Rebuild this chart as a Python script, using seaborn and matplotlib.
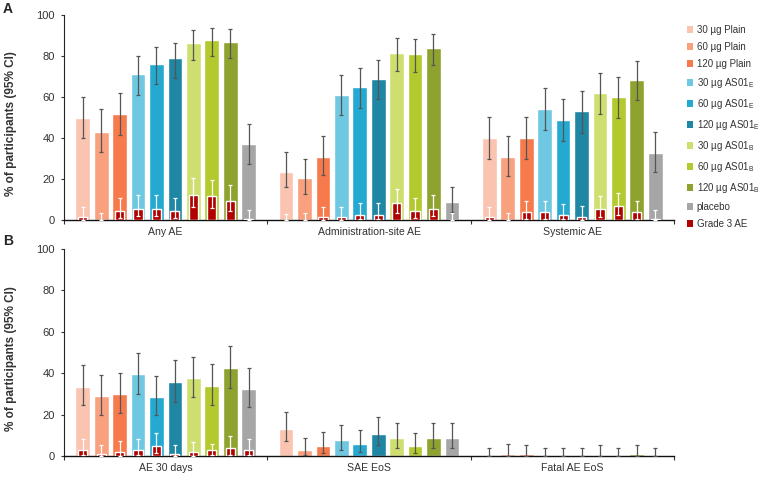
import numpy as np
import pandas as pd
import matplotlib
matplotlib.use('Agg')
import matplotlib.pyplot as plt
import seaborn as sns
from matplotlib.patches import Patch

# ---------------- data ----------------
series = ['30 µg Plain', '60 µg Plain', '120 µg Plain',
          '30 µg AS01E', '60 µg AS01E', '120 µg AS01E',
          '30 µg AS01B', '60 µg AS01B', '120 µg AS01B', 'placebo']
legend_labels = ['30 µg Plain', '60 µg Plain', '120 µg Plain',
                 '30 µg AS01$_{\\mathregular{E}}$', '60 µg AS01$_{\\mathregular{E}}$',
                 '120 µg AS01$_{\\mathregular{E}}$',
                 '30 µg AS01$_{\\mathregular{B}}$', '60 µg AS01$_{\\mathregular{B}}$',
                 '120 µg AS01$_{\\mathregular{B}}$', 'placebo', 'Grade 3 AE']
colors = ['#FBC4B0', '#F9A07E', '#F77A4D', '#6EC8E1', '#24A9D0', '#1F86A4',
          '#CFDF6F', '#B3C92E', '#8EA22F', '#A6A6A6']
grade3_color = '#B00000'

groups_A = ['Any AE', 'Administration-site AE', 'Systemic AE']
groups_B = ['AE 30 days', 'SAE EoS', 'Fatal AE EoS']

# Panel A
any_ae = [50, 43, 52, 71.5, 76, 79, 86.5, 88, 87, 37]
any_ae_lo = [40, 33.5, 41.5, 61.2, 66.5, 69.5, 78.2, 80, 79, 27.5]
any_ae_hi = [60, 54, 62, 80, 84.2, 86.6, 92.5, 93.8, 93.2, 47]
any_g3 = [1.8, 0, 4.7, 5.7, 5.7, 4.7, 12.3, 12, 9.6, 0.8]
any_g3_lo = [0, 0, 1.3, 2.1, 2.1, 1.3, 6.5, 6, 4.7, 0]
any_g3_hi = [6.7, 3.7, 11, 12.5, 12.5, 11, 20.6, 19.8, 17.4, 5]

admin = [23.7, 20.5, 30.8, 61.2, 65, 68.8, 81.7, 80.8, 84, 8.7]
admin_lo = [16, 13, 22, 51.2, 54.5, 59, 72.6, 72, 75.5, 3.8]
admin_hi = [33.5, 30, 41, 71, 74.4, 78, 88.6, 88.3, 90.7, 16.3]
admin_g3 = [0, 0, 1.8, 1.8, 2.8, 2.8, 8.4, 4.7, 5.7, 0]
admin_g3_lo = [0, 0, 0.2, 0.2, 0.5, 0.5, 3.7, 1.3, 2.1, 0]
admin_g3_hi = [3.3, 3.7, 6.7, 6.7, 8.3, 8.3, 15.4, 11, 12.5, 3.4]

systemic = [40, 30.8, 40, 54.4, 49, 53, 62, 60, 68.5, 32.6]
systemic_lo = [30, 21.8, 30, 44.2, 38.8, 42.5, 51.9, 49.8, 58.4, 23.7]
systemic_hi = [50.3, 41.1, 50.3, 64.6, 59.3, 63.1, 71.9, 69.8, 77.4, 43.2]
systemic_g3 = [1.8, 0, 3.9, 3.9, 2.8, 1.8, 5.4, 6.8, 3.9, 0.6]
systemic_g3_lo = [0.2, 0, 0.8, 0.8, 0.5, 0.2, 1.6, 2.6, 0.8, 0]
systemic_g3_hi = [6.7, 3.7, 9.6, 9.6, 8.1, 7, 12, 13.5, 9.6, 5.2]

# Panel B
ae30 = [33.6, 28.9, 30.1, 39.7, 28.8, 36, 37.9, 34.1, 42.8, 32.6]
ae30_lo = [24.8, 19.9, 21.1, 29.9, 19.9, 26.2, 28.5, 24.8, 33, 23.6]
ae30_hi = [43.9, 39.1, 40, 50, 38.9, 46.3, 48.1, 44.4, 53.1, 42.8]
ae30_g3 = [3.1, 1.1, 2.1, 3.1, 5, 1.1, 2.1, 3, 4, 3.1]
ae30_g3_lo = [0.6, 0, 0.3, 0.6, 1.4, 0, 0.3, 0.6, 0.7, 0.6]
ae30_g3_hi = [8.4, 5.6, 7.2, 8.4, 11.4, 5.6, 6.9, 5.9, 9.6, 8.4]

sae = [13, 3.2, 5, 7.9, 5.9, 10.9, 8.8, 5, 8.8, 8.8]
sae_lo = [7.2, 0.5, 1.6, 3.2, 1.9, 5.5, 4.2, 1.6, 4.2, 4.2]
sae_hi = [21.2, 8.8, 11.6, 15.3, 12.5, 18.8, 15.9, 11.4, 16.2, 16.2]

fatal = [0, 0.9, 0.9, 0, 0, 0, 0.6, 0, 0.9, 0]
fatal_lo = [0, 0, 0, 0, 0, 0, 0, 0, 0, 0]
fatal_hi = [3.9, 5.8, 5.5, 3.9, 3.9, 3.9, 5.5, 3.9, 5.5, 3.9]

# ---------------- style ----------------
sns.set_style('white')
plt.rcParams['font.family'] = ['Liberation Sans', 'DejaVu Sans']
plt.rcParams['mathtext.fontset'] = 'custom'
plt.rcParams['mathtext.rm'] = 'Liberation Sans'
text_color = '#333333'

fig = plt.figure(figsize=(7.6, 4.79), dpi=100)
W, H = 760, 479


def ax_rect(x0, y0, x1, y1):
    return [x0 / W, 1 - y1 / H, (x1 - x0) / W, (y1 - y0) / H]


axA = fig.add_axes(ax_rect(64, 15, 674, 220.3))
axB = fig.add_axes(ax_rect(64, 249, 674, 456.3))

GROUP_W = 0.906


def draw_panel(ax, groups, vals, los, his, g3, g3lo, g3hi):
    rows = []
    for g, v in zip(groups, vals):
        for s, val in zip(series, v):
            rows.append(dict(group=g, series=s, pct=val))
    df = pd.DataFrame(rows)
    sns.barplot(data=df, x='group', y='pct', hue='series', order=groups,
                hue_order=series, palette=colors, width=GROUP_W, gap=0.2,
                errorbar=None, legend=False, saturation=1, ax=ax, zorder=2)
    centers = []
    for cont in ax.containers:
        centers.append(sorted(p.get_x() + p.get_width() / 2 for p in cont.patches))
    # main error bars
    for j in range(len(groups)):
        for i in range(len(series)):
            x = centers[i][j]
            y = vals[j][i]
            ax.errorbar(x, y, yerr=[[y - los[j][i]], [his[j][i] - y]],
                        fmt='none', ecolor='#555555', elinewidth=0.9,
                        capsize=1.6, capthick=0.9, zorder=3)
    # grade 3 bars
    rows3 = []
    for gi, g in enumerate(groups):
        if g3[gi] is None:
            continue
        for s, val in zip(series, g3[gi]):
            rows3.append(dict(group=g, series=s, pct=val))
    if rows3:
        df3 = pd.DataFrame(rows3)
        sns.barplot(data=df3, x='group', y='pct', hue='series', order=groups,
                    hue_order=series, palette=[grade3_color] * len(series),
                    width=GROUP_W, gap=0.5, errorbar=None, legend=False,
                    saturation=1, ax=ax, zorder=4)
        for j in range(len(groups)):
            if g3[j] is None:
                continue
            for i in range(len(series)):
                x = centers[i][j]
                y = g3[j][i]
                ax.errorbar(x, y, yerr=[[y - g3lo[j][i]], [g3hi[j][i] - y]],
                            fmt='none', ecolor='white', elinewidth=0.9,
                            capsize=1.6, capthick=0.9, zorder=5)
    ax.set_xlim(-0.5, 2.5)
    ax.set_ylim(0, 100)
    ax.set_yticks(range(0, 101, 20))
    ax.set_xlabel('')
    ax.set_ylabel('% of participants (95% CI)', fontsize=8.5, fontweight='bold',
                  color=text_color)
    ax.set_xticks(range(len(groups)))
    ax.set_xticklabels(groups, fontsize=7.6, color=text_color)
    ax.set_xticks([-0.5, 0.5, 1.5, 2.5], minor=True)
    ax.tick_params(axis='x', which='major', length=0, pad=5)
    ax.tick_params(axis='x', which='minor', length=3, width=0.8, color='#333333',
                   direction='out', bottom=True)
    ax.tick_params(axis='y', length=2.5, width=0.8, color='#333333', left=True,
                   direction='out', labelsize=8, labelcolor=text_color, pad=4)
    for side in ['top', 'right']:
        ax.spines[side].set_visible(False)
    ax.spines['left'].set_color('#222222')
    ax.spines['left'].set_linewidth(0.8)
    ax.spines['bottom'].set_color('#111111')
    ax.spines['bottom'].set_linewidth(1.0)
    ax.grid(False)


draw_panel(axA, groups_A,
           [any_ae, admin, systemic],
           [any_ae_lo, admin_lo, systemic_lo],
           [any_ae_hi, admin_hi, systemic_hi],
           [any_g3, admin_g3, systemic_g3],
           [any_g3_lo, admin_g3_lo, systemic_g3_lo],
           [any_g3_hi, admin_g3_hi, systemic_g3_hi])

draw_panel(axB, groups_B,
           [ae30, sae, fatal],
           [ae30_lo, sae_lo, fatal_lo],
           [ae30_hi, sae_hi, fatal_hi],
           [ae30_g3, None, None],
           [ae30_g3_lo, None, None],
           [ae30_g3_hi, None, None])

axA.yaxis.set_label_coords(-0.077, 0.47)
axB.yaxis.set_label_coords(-0.077, 0.47)

# panel letters
fig.text(3 / W, 1 - 9 / H, 'A', fontsize=10, fontweight='bold', va='center', ha='left')
fig.text(3 / W, 1 - 241 / H, 'B', fontsize=10, fontweight='bold', va='center', ha='left')

# legend
handles = [Patch(facecolor=c, edgecolor='none') for c in colors] + \
          [Patch(facecolor=grade3_color, edgecolor='none')]
leg = fig.legend(handles, legend_labels, loc='upper left',
                 bbox_to_anchor=(687 / W, 1 - 25 / H), frameon=False,
                 fontsize=7, handlelength=0.65, handleheight=0.65,
                 handletextpad=0.35, labelspacing=0.72, borderpad=0,
                 borderaxespad=0)
for t in leg.get_texts():
    t.set_color(text_color)

fig.savefig('out.png', dpi=100)
